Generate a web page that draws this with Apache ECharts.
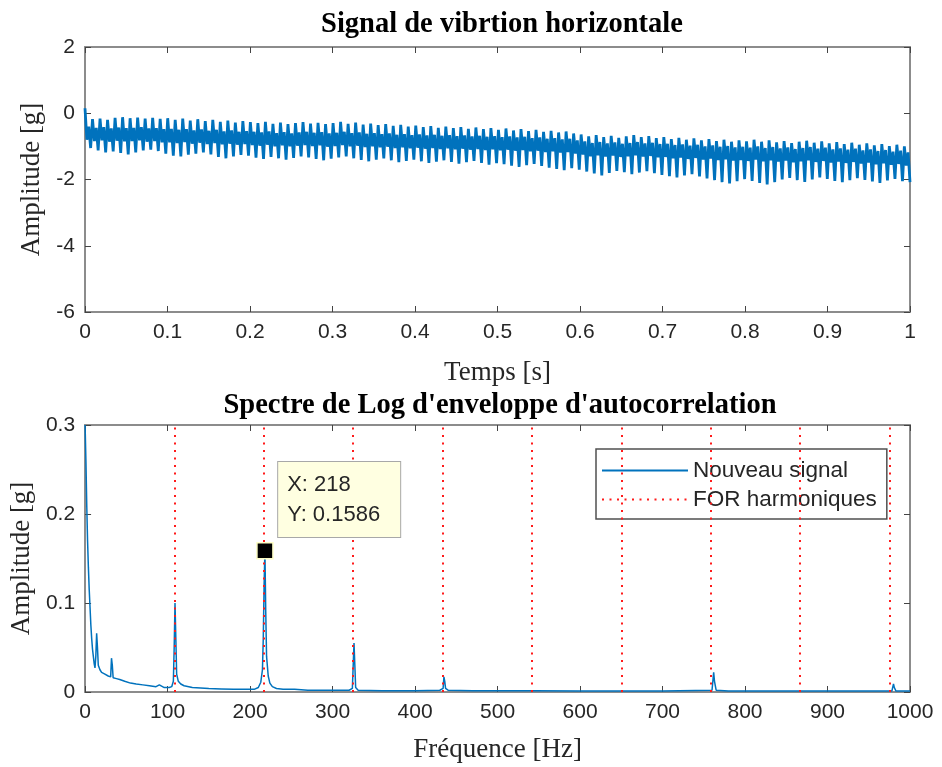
<!DOCTYPE html>
<html>
<head>
<meta charset="utf-8">
<script src="https://cdn.jsdelivr.net/npm/echarts@6/dist/echarts.min.js"></script>
<style>html,body{margin:0;padding:0;background:#fff;}#c{width:942px;height:767px;}</style>
</head>
<body>
<div id="c"></div>
<script>
// ---- Data ----
var titleTop = 'Signal de vibrtion horizontale';
var titleBottom = "Spectre de Log d'enveloppe d'autocorrelation";
var timeTicks = [0, 1, 0.1];          // min, max, interval (s)
var ampTicks = [-6, 2, 2];            // min, max, interval (g)
var freqTicks = [0, 1000, 100];       // Hz
var specTicks = [0, 0.3, 0.1];        // g

// vibration samples, 4 per shaft cycle (spike top, band low, band high, spike bottom)
var signal = [
0.15,-0.80,-0.40,-1.05, -0.18,-0.84,-0.44,-1.12, -0.16,-0.82,-0.42,-1.18, -0.20,-0.86,-0.46,-1.15,
-0.14,-0.83,-0.43,-1.20, -0.12,-0.85,-0.45,-1.24, -0.15,-0.84,-0.44,-1.18, -0.13,-0.82,-0.42,-1.12,
-0.16,-0.86,-0.46,-1.10, -0.14,-0.84,-0.45,-1.14, -0.17,-0.88,-0.48,-1.22,
-0.15,-0.88,-0.47,-1.28, -0.20,-0.90,-0.50,-1.30, -0.16,-0.87,-0.48,-1.25, -0.22,-0.92,-0.52,-1.22,
-0.18,-0.89,-0.49,-1.18, -0.24,-0.93,-0.53,-1.24, -0.20,-0.90,-0.50,-1.32, -0.26,-0.94,-0.55,-1.36,
-0.22,-0.92,-0.52,-1.30, -0.28,-0.95,-0.56,-1.26, -0.24,-0.93,-0.54,-1.28,
-0.27,-0.96,-0.56,-1.34, -0.30,-0.98,-0.58,-1.38, -0.26,-0.95,-0.55,-1.32, -0.32,-1.00,-0.60,-1.36,
-0.28,-0.97,-0.57,-1.40, -0.33,-1.00,-0.61,-1.35, -0.30,-0.98,-0.58,-1.30, -0.27,-0.96,-0.56,-1.33,
-0.31,-0.99,-0.59,-1.38, -0.29,-0.97,-0.57,-1.42, -0.33,-1.01,-0.61,-1.37,
-0.30,-0.99,-0.59,-1.33, -0.26,-0.96,-0.56,-1.30, -0.32,-1.00,-0.60,-1.36, -0.28,-0.98,-0.58,-1.41,
-0.34,-1.02,-0.62,-1.45, -0.31,-1.00,-0.60,-1.40, -0.36,-1.03,-0.63,-1.36, -0.33,-1.01,-0.61,-1.42,
-0.38,-1.05,-0.65,-1.48, -0.35,-1.03,-0.63,-1.44, -0.40,-1.06,-0.66,-1.40,
-0.37,-1.04,-0.64,-1.45, -0.42,-1.07,-0.67,-1.50, -0.39,-1.05,-0.65,-1.46, -0.44,-1.08,-0.68,-1.42,
-0.40,-1.06,-0.66,-1.47, -0.45,-1.09,-0.69,-1.52, -0.42,-1.07,-0.67,-1.48, -0.47,-1.10,-0.70,-1.44,
-0.43,-1.08,-0.68,-1.50, -0.48,-1.11,-0.71,-1.55, -0.45,-1.09,-0.69,-1.51,
-0.50,-1.12,-0.72,-1.54, -0.46,-1.10,-0.70,-1.58, -0.52,-1.13,-0.73,-1.62, -0.48,-1.11,-0.71,-1.57,
-0.54,-1.15,-0.75,-1.53, -0.50,-1.13,-0.73,-1.59, -0.56,-1.17,-0.77,-1.64, -0.53,-1.15,-0.75,-1.68,
-0.58,-1.19,-0.79,-1.72, -0.55,-1.17,-0.77,-1.66, -0.61,-1.22,-0.82,-1.70,
-0.64,-1.25,-0.85,-1.76, -0.70,-1.30,-0.90,-1.82, -0.66,-1.27,-0.87,-1.88, -0.72,-1.31,-0.91,-1.80,
-0.68,-1.28,-0.88,-1.74, -0.74,-1.32,-0.92,-1.78, -0.70,-1.30,-0.90,-1.84, -0.66,-1.27,-0.87,-1.79,
-0.72,-1.31,-0.91,-1.75, -0.69,-1.29,-0.89,-1.81, -0.75,-1.33,-0.93,-1.86,
-0.72,-1.32,-0.92,-1.90, -0.78,-1.36,-0.96,-1.94, -0.74,-1.34,-0.94,-1.88, -0.80,-1.38,-0.98,-1.84,
-0.76,-1.35,-0.95,-1.91, -0.82,-1.40,-1.00,-1.97, -0.78,-1.37,-0.97,-2.02, -0.84,-1.41,-1.01,-2.08,
-0.80,-1.39,-0.99,-2.12, -0.86,-1.43,-1.03,-2.05, -0.82,-1.41,-1.01,-1.99,
-0.85,-1.44,-1.04,-2.04, -0.80,-1.40,-1.00,-2.10, -0.86,-1.45,-1.05,-2.15, -0.82,-1.42,-1.02,-2.08,
-0.88,-1.46,-1.06,-2.00, -0.84,-1.43,-1.03,-1.95, -0.90,-1.48,-1.08,-2.02, -0.86,-1.45,-1.05,-2.07,
-0.83,-1.42,-1.02,-2.00, -0.89,-1.47,-1.07,-1.94, -0.85,-1.44,-1.04,-1.98,
-0.91,-1.49,-1.09,-2.04, -0.87,-1.46,-1.06,-2.08, -0.93,-1.50,-1.10,-2.02, -0.89,-1.47,-1.07,-1.96,
-0.95,-1.52,-1.12,-2.01, -0.91,-1.49,-1.09,-2.06, -0.97,-1.54,-1.14,-2.10, -0.93,-1.51,-1.11,-2.03,
-0.99,-1.56,-1.16,-1.98, -0.95,-1.53,-1.13,-2.05, -1.00,-1.58,-1.18,-2.08
];

// spectrum [frequency Hz, amplitude g]
var spectrum = [
[0,0.30],[1,0.26],[2,0.21],[3,0.17],[4,0.14],[5,0.115],[6,0.095],[7,0.075],[8,0.06],[9,0.048],
[10,0.04],[11,0.032],[12,0.027],[13,0.04],[14,0.066],[15,0.05],[16,0.03],[18,0.025],[20,0.022],
[24,0.02],[28,0.018],[31,0.017],[32,0.038],[33,0.03],[34,0.016],[38,0.015],[42,0.014],[48,0.012],
[55,0.01],[62,0.009],[70,0.008],[78,0.007],[86,0.006],[90,0.008],[91,0.006],[96,0.005],[102,0.005],
[105,0.006],[107,0.012],[108,0.05],[109,0.1],[110,0.06],[111,0.02],[113,0.012],[116,0.009],
[120,0.007],[130,0.005],[140,0.0045],[150,0.004],[165,0.0035],[180,0.003],[195,0.003],[205,0.003],
[210,0.005],[213,0.011],[215,0.025],[216,0.06],[217,0.12],[218,0.1586],[219,0.09],[220,0.04],
[222,0.018],[224,0.01],[227,0.006],[232,0.004],[240,0.003],[250,0.003],[252,0.005],[254,0.003],
[270,0.002],[290,0.002],[310,0.002],[320,0.002],[324,0.004],[326,0.055],[327,0.03],[328,0.005],
[331,0.002],[360,0.0015],[400,0.0015],[430,0.002],[434,0.004],[435,0.017],[436,0.012],[437,0.004],
[440,0.002],[470,0.0015],[472,0.003],[474,0.0015],[541,0.0015],[543,0.003],[545,0.0015],[600,0.0012],
[652,0.0012],[654,0.003],[656,0.0012],[700,0.001],[760,0.002],[762,0.022],[763,0.012],[765,0.002],
[780,0.001],[840,0.001],[872,0.001],[874,0.003],[876,0.001],[930,0.001],[978,0.001],[980,0.009],
[981,0.005],[983,0.001],[1000,0.001]
];

var harmonics = [108.3, 216.6, 325, 433.3, 541.6, 650, 758.3, 866.6, 975];
var tip = [218, 0.1586];
var seriesNames = ['Nouveau signal', 'FOR harmoniques'];

// ---- Chart ----
var signalData = signal.map(function (v, i) { return [i / (signal.length - 1), v]; });

var SANS = '"Liberation Sans", Arial, sans-serif';
var SERIF = '"Liberation Serif", "Times New Roman", serif';
var frame = '#8c8c8c';
var ink = '#262626';

function ax(grid, t, opts) {
  return Object.assign({
    type: 'value', gridIndex: grid, min: t[0], max: t[1], interval: t[2],
    axisLine: { show: true, onZero: false, lineStyle: { color: frame, width: 2 } },
    axisTick: { show: true, inside: true, length: 6, lineStyle: { color: '#444', width: 1 } },
    axisLabel: { show: true, color: ink, fontFamily: SANS, fontSize: 21, margin: 10,
      formatter: function (v) { return String(v); } },
    splitLine: { show: false }
  }, opts || {});
}
var nameStyle = { fontFamily: SERIF, fontSize: 27, color: ink };

var option = {
  animation: false,
  backgroundColor: '#fff',
  title: [
    { text: titleTop, left: 497, top: 5, textAlign: 'center',
      textStyle: { fontFamily: SERIF, fontWeight: 'bold', fontSize: 28.5, color: '#000' } },
    { text: titleBottom, left: 495, top: 386, textAlign: 'center',
      textStyle: { fontFamily: SERIF, fontWeight: 'bold', fontSize: 28.5, color: '#000' } }
  ],
  grid: [
    { left: 85, width: 825, top: 47, height: 265 },
    { left: 85, width: 825, top: 425, height: 267 }
  ],
  legend: {
    data: seriesNames, orient: 'vertical', left: 596, top: 449,
    itemWidth: 86, itemHeight: 16, itemGap: 6,
    padding: [10, 10, 8, 5],
    borderColor: '#505050', borderWidth: 1.5, backgroundColor: '#fff',
    itemStyle: { opacity: 0 },
    textStyle: { fontFamily: SANS, fontSize: 22.5, color: ink }
  },
  xAxis: [
    ax(0, timeTicks, { name: 'Temps [s]', nameLocation: 'middle', nameGap: 47, nameTextStyle: nameStyle }),
    ax(0, timeTicks, { position: 'top', axisLabel: { show: false } }),
    ax(1, freqTicks, { name: 'Fréquence [Hz]', nameLocation: 'middle', nameGap: 44, nameTextStyle: nameStyle }),
    ax(1, freqTicks, { position: 'top', axisLabel: { show: false } })
  ],
  yAxis: [
    ax(0, ampTicks, { name: 'Amplitude [g]', nameLocation: 'middle', nameGap: 36, nameTextStyle: nameStyle }),
    ax(0, ampTicks, { position: 'right', axisLabel: { show: false } }),
    ax(1, specTicks, { name: 'Amplitude [g]', nameLocation: 'middle', nameGap: 42, nameTextStyle: nameStyle }),
    ax(1, specTicks, { position: 'right', axisLabel: { show: false } })
  ],
  series: [
    { name: 'Signal', type: 'line', xAxisIndex: 0, yAxisIndex: 0, data: signalData,
      symbol: 'none', lineStyle: { color: '#0072BD', width: 2.8, join: 'miter', miterLimit: 2 }, z: 3 },
    { name: seriesNames[1], type: 'line', xAxisIndex: 2, yAxisIndex: 2, data: [],
      symbol: 'none', color: '#ff1a1a',
      lineStyle: { color: '#ff1a1a', width: 2, type: [2, 5.5] },
      markLine: {
        silent: true, symbol: ['none', 'none'], label: { show: false },
        lineStyle: { color: '#ff1a1a', width: 2, type: [2, 5.5] },
        data: harmonics.map(function (h) { return { xAxis: h }; })
      }, z: 2 },
    { name: seriesNames[0], type: 'line', xAxisIndex: 2, yAxisIndex: 2, data: spectrum,
      symbol: 'none', color: '#0072BD', lineStyle: { color: '#0072BD', width: 1.5 }, z: 3,
      markPoint: {
        silent: true,
        data: [{
          coord: tip, symbol: 'rect', symbolSize: 16,
          itemStyle: { color: '#000', borderColor: '#ffffc8', borderWidth: 1.5, opacity: 1 },
          label: {
            show: true, position: [22, -80], align: 'left', verticalAlign: 'top',
            formatter: 'X: ' + tip[0] + '\nY: ' + tip[1],
            fontFamily: SANS, fontSize: 22, lineHeight: 30, color: ink,
            backgroundColor: '#ffffe1', borderColor: '#a8a8a8', borderWidth: 1,
            padding: [8, 10, 7, 9], width: 103
          }
        }]
      }
    }
  ]
};

var chart = echarts.init(document.getElementById('c'), null, { renderer: 'canvas' });
chart.setOption(option);
</script>
</body>
</html>
